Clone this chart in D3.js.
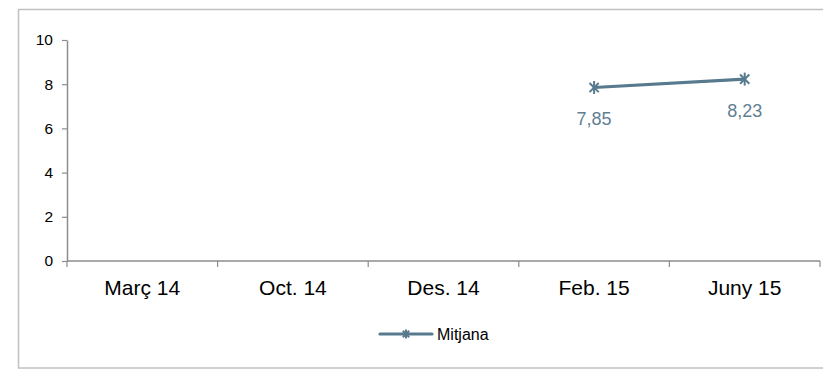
<!DOCTYPE html>
<html>
<head>
<meta charset="utf-8">
<script src="https://cdn.jsdelivr.net/npm/d3@7"></script>
<style>
  html, body { margin: 0; padding: 0; background: #fff; }
  svg { display: block; font-family: "Liberation Sans", Arial, sans-serif; }
</style>
</head>
<body>
<svg id="chart" width="823" height="369"></svg>
<script>
// Survey periods and the average score recorded for each
const categories = ["Març 14", "Oct. 14", "Des. 14", "Feb. 15", "Juny 15"];
const mitjana = [null, null, null, 7.85, 8.23];
const yTicks = [0, 2, 4, 6, 8, 10];
const seriesName = "Mitjana";

const W = 823, H = 369;
const plot = { left: 67, right: 820, top: 40, bottom: 261 };
const lineColor = "#577a8e";
const labelColor = "#5f7f92";
const axisColor = "#8c8c8c";

const svg = d3.select("#chart");

// Chart area frame
svg.append("rect")
  .attr("x", 18.5).attr("y", 9.5)
  .attr("width", W + 10).attr("height", 358.5)
  .attr("fill", "#fff").attr("stroke", "#c0c0c0").attr("stroke-width", 1.5);

const x = d3.scaleBand().domain(categories).range([plot.left, plot.right]).padding(0);
const y = d3.scaleLinear().domain([0, 10]).range([plot.bottom, plot.top]);

// Y axis
const yAxis = svg.append("g")
  .attr("transform", `translate(${plot.left},0)`)
  .call(d3.axisLeft(y).tickValues(yTicks).tickSize(5).tickPadding(9).tickSizeOuter(0));
yAxis.select(".domain").attr("stroke", axisColor).attr("stroke-width", 1.5);
yAxis.selectAll(".tick line").attr("stroke", axisColor).attr("stroke-width", 1.2);
yAxis.selectAll(".tick text")
  .attr("fill", "#000").style("font-size", "15.5px")
  .style("font-family", "'Liberation Sans', Arial, sans-serif");

// X axis with ticks on category boundaries
const xAxisG = svg.append("g").attr("transform", `translate(0,${plot.bottom})`);
xAxisG.append("line")
  .attr("x1", plot.left).attr("x2", plot.right)
  .attr("stroke", axisColor).attr("stroke-width", 1.5);
const bounds = categories.map(c => x(c)).concat([plot.right]);
xAxisG.selectAll("line.tk").data(bounds).enter().append("line")
  .attr("class", "tk")
  .attr("x1", d => d).attr("x2", d => d)
  .attr("y1", 0).attr("y2", 6)
  .attr("stroke", axisColor).attr("stroke-width", 1.2);
xAxisG.selectAll("text").data(categories).enter().append("text")
  .attr("x", d => x(d) + x.bandwidth() / 2)
  .attr("y", 34)
  .attr("text-anchor", "middle")
  .style("font-size", "21px")
  .attr("fill", "#000")
  .text(d => d);

// Series line
const pts = categories.map((c, i) => ({ c, v: mitjana[i] })).filter(d => d.v != null);
const cx = d => x(d.c) + x.bandwidth() / 2;

svg.append("path")
  .datum(pts)
  .attr("fill", "none")
  .attr("stroke", lineColor)
  .attr("stroke-width", 3.2)
  .attr("stroke-linecap", "round")
  .attr("d", d3.line().x(cx).y(d => y(d.v)));

// Asterisk marker
function star(g, px, py, r) {
  const s = g.append("g").attr("transform", `translate(${px},${py})`);
  const d = r * Math.SQRT1_2;
  [[0, -r, 0, r], [-d, -d, d, d], [-d, d, d, -d]].forEach(p => {
    s.append("line")
      .attr("x1", p[0]).attr("y1", p[1]).attr("x2", p[2]).attr("y2", p[3])
      .attr("stroke", lineColor).attr("stroke-width", 2);
  });
}
pts.forEach(d => star(svg, cx(d), y(d.v), 6.5));

// Value labels
svg.selectAll("text.val").data(pts).enter().append("text")
  .attr("class", "val")
  .attr("x", cx)
  .attr("y", d => y(d.v) + 37.5)
  .attr("text-anchor", "middle")
  .style("font-size", "18px")
  .attr("fill", labelColor)
  .text(d => d3.format(".2f")(d.v).replace(".", ","));

// Legend
const lg = svg.append("g").attr("transform", "translate(0,334)");
lg.append("line")
  .attr("x1", 380).attr("x2", 432)
  .attr("stroke", lineColor).attr("stroke-width", 3.2).attr("stroke-linecap", "round");
star(lg, 406, 0, 4.5);
lg.append("text")
  .attr("x", 437).attr("y", 5.5)
  .style("font-size", "16px")
  .attr("fill", "#000")
  .text(seriesName);
</script>
</body>
</html>
